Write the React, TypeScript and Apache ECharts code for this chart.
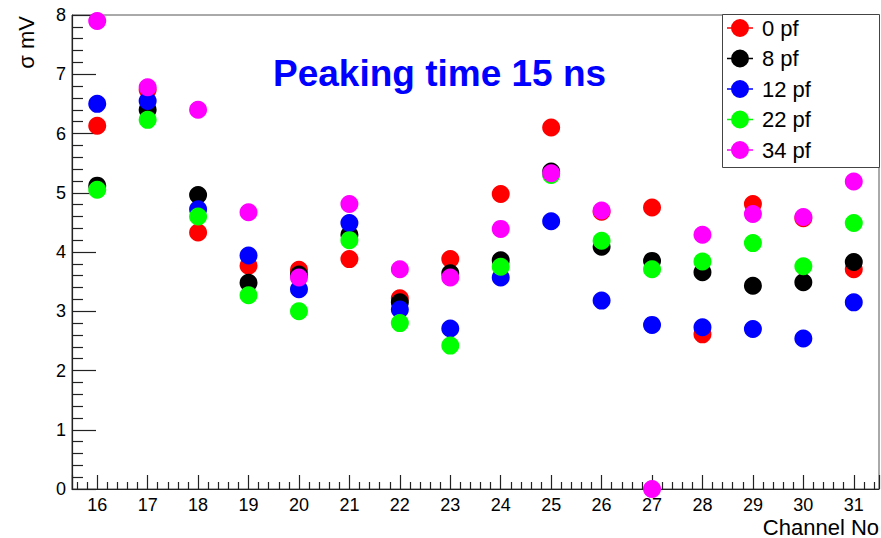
import React, { useEffect, useRef } from "react";
import * as echarts from "echarts";

const channels = [16, 17, 18, 19, 20, 21, 22, 23, 24, 25, 26, 27, 28, 29, 30, 31];
const seriesNames = ["0 pf", "8 pf", "12 pf", "22 pf", "34 pf"];
const seriesColors = ["#ff0000", "#000000", "#0000ff", "#00ff00", "#ff00ff"];
const pf0 = [6.13, 6.74, 4.33, 3.77, 3.7, 3.88, 3.22, 3.88, 4.98, 6.1, 4.68, 4.75, 2.61, 4.81, 4.57, 3.71];
const pf8 = [5.12, 6.4, 4.96, 3.48, 3.62, 4.29, 3.15, 3.64, 3.86, 5.36, 4.09, 3.85, 3.66, 3.43, 3.49, 3.83];
const pf12 = [6.5, 6.55, 4.72, 3.94, 3.37, 4.49, 3.03, 2.71, 3.57, 4.52, 3.18, 2.77, 2.73, 2.7, 2.54, 3.15];
const pf22 = [5.05, 6.23, 4.6, 3.27, 3.0, 4.2, 2.8, 2.42, 3.75, 5.3, 4.19, 3.71, 3.84, 4.15, 3.76, 4.49];
const pf34 = [7.9, 6.78, 6.4, 4.67, 3.57, 4.81, 3.71, 3.57, 4.39, 5.33, 4.7, 0, 4.29, 4.64, 4.59, 5.19];
const allValues = [pf0, pf8, pf12, pf22, pf34];
const yTickLabels = ["0", "1", "2", "3", "4", "5", "6", "7", "8"];
const titleText = "Peaking time 15 ns";
const yName = "σ mV";
const xName = "Channel No";

const FONT = "'Liberation Sans', Arial, Helvetica, sans-serif";
const legendIcon =
  "path://M4,9 A9,9 0 1 1 22,9 A9,9 0 1 1 4,9 Z M0,8.3 H4.5 V9.7 H0 Z M21.5,8.3 H26 V9.7 H21.5 Z";

export default function App() {
  const ref = useRef<HTMLDivElement>(null);
  useEffect(() => {
    if (!ref.current) return;
    const chart = echarts.init(ref.current, undefined, { renderer: "svg" });
    const series = allValues.map((vals, i) => ({
      name: seriesNames[i],
      type: "scatter",
      symbol: "circle",
      symbolSize: 18,
      clip: false,
      z: 2 + i * 0.01,
      itemStyle: { color: seriesColors[i], opacity: 1 },
      data: channels.map((c, j) => [c, vals[j]]),
    }));
    chart.setOption({
      animation: false,
      backgroundColor: "#ffffff",
      textStyle: { fontFamily: FONT },
      title: {
        text: titleText,
        left: 273,
        top: 55,
        padding: 0,
        textStyle: { fontSize: 37, fontWeight: "bold", color: "#0000ff", fontFamily: FONT },
      },
      grid: {
        left: 72,
        top: 15,
        right: 2,
        bottom: 49,
        show: true,
        borderColor: "#555555",
        borderWidth: 1,
        backgroundColor: "transparent",
      },
      legend: {
        orient: "vertical",
        left: 727,
        top: 17,
        padding: 0,
        itemGap: 8.5,
        itemWidth: 26,
        itemHeight: 18,
        selectedMode: false,
        z: 6,
        icon: legendIcon,
        data: seriesNames.map((n, i) => ({ name: n, itemStyle: { color: seriesColors[i] } })),
        textStyle: { fontSize: 22, color: "#000", fontFamily: FONT, lineHeight: 18, padding: [0, 0, 0, 4] },
      },
      graphic: [
        {
          type: "rect",
          z: 5,
          shape: { x: 722.5, y: 14.5, width: 157, height: 153 },
          style: { fill: "#ffffff", stroke: "#444444", lineWidth: 1 },
        },
        {
          type: "text",
          x: 26,
          y: 16,
          rotation: Math.PI / 2,
          style: { text: yName, fontSize: 22, fill: "#000", fontFamily: FONT, align: "right", verticalAlign: "middle" },
        },
        {
          type: "text",
          x: 879,
          y: 527,
          style: { text: xName, fontSize: 22, fill: "#000", fontFamily: FONT, align: "right", verticalAlign: "middle" },
        },
      ],
      xAxis: {
        type: "value",
        min: 15.5,
        max: 31.5,
        splitNumber: 16,
        axisLine: { show: true, onZero: false, lineStyle: { color: "#222", width: 1.2 } },
        axisTick: { show: true, inside: true, length: 14, lineStyle: { color: "#222", width: 1.2 } },
        minorTick: { show: true, splitNumber: 5, length: 7, lineStyle: { color: "#222", width: 1.2 } },
        splitLine: { show: false },
        minorSplitLine: { show: false },
        axisLabel: {
          fontSize: 18,
          color: "#000",
          margin: 7,
          fontFamily: FONT,
          showMinLabel: false,
          showMaxLabel: false,
          formatter: (v: number) => (Number.isInteger(v) && channels.includes(v) ? String(v) : ""),
        },
      },
      yAxis: {
        type: "value",
        min: 0,
        max: 8,
        interval: 1,
        axisLine: { show: true, onZero: false, lineStyle: { color: "#222", width: 1.2 } },
        axisTick: { show: true, inside: true, length: 24, lineStyle: { color: "#222", width: 1.2 } },
        minorTick: { show: true, splitNumber: 5, length: 11, lineStyle: { color: "#222", width: 1.2 } },
        splitLine: { show: false },
        minorSplitLine: { show: false },
        axisLabel: {
          fontSize: 18,
          color: "#000",
          margin: 6,
          fontFamily: FONT,
          formatter: (v: number) => yTickLabels[v] ?? "",
        },
      },
      series,
    });
    return () => chart.dispose();
  }, []);
  return (
    <div
      ref={ref}
      style={{ position: "fixed", left: 0, top: 0, width: 881, height: 538, background: "#fff" }}
    />
  );
}
